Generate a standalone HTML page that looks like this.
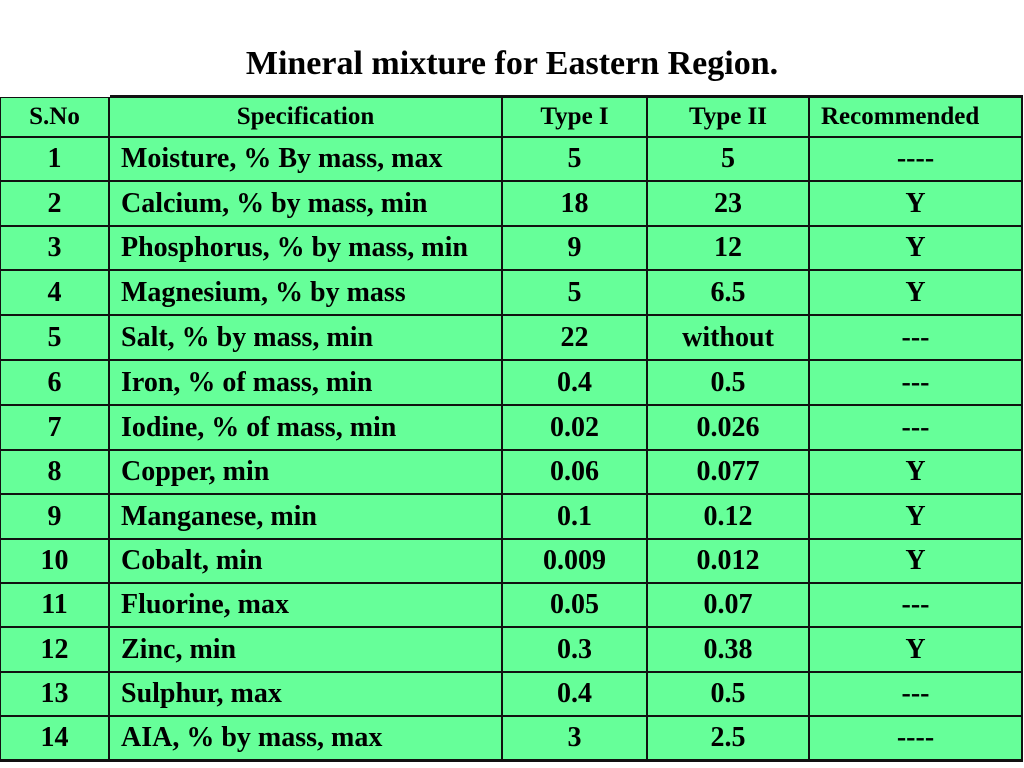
<!DOCTYPE html>
<html><head><meta charset="utf-8"><style>
body{margin:0;width:1024px;height:768px;background:#fff;position:relative;overflow:hidden;font-family:"Liberation Serif",serif;font-weight:bold;color:#000}
.t{position:absolute;left:0;width:1024px;text-align:center;font-size:34px;top:45px}
.c{position:absolute;box-sizing:border-box;background:#66ff99;border-right:2px solid #111;border-bottom:2px solid #111;display:flex;align-items:center;justify-content:center;font-size:28px;white-space:nowrap}
.l{justify-content:flex-start;padding-left:11px}
.h{font-size:25px}
</style></head><body>
<div class="t">Mineral mixture for Eastern Region.</div>
<div id="tbl"></div>
<script>
const cols=[0,110,503,648,810,1023];
const rows=[97,138,182,227,271,316,361,406,451,495,540,584,628,673,717,761];
const header=["S.No","Specification","Type I","Type II","Recommended"];
const specs=["Moisture, % By mass, max","Calcium, % by mass, min","Phosphorus, % by mass, min","Magnesium, % by mass","Salt, % by mass, min","Iron, % of mass, min","Iodine, % of mass, min","Copper, min","Manganese, min","Cobalt, min","Fluorine, max","Zinc, min","Sulphur, max","AIA, % by mass, max"];
const type1=["5","18","9","5","22","0.4","0.02","0.06","0.1","0.009","0.05","0.3","0.4","3"];
const type2=["5","23","12","6.5","without","0.5","0.026","0.077","0.12","0.012","0.07","0.38","0.5","2.5"];
const rec=["----","Y","Y","Y","---","---","---","Y","Y","Y","---","Y","---","----"];
const tbl=document.getElementById('tbl');
for(let r=0;r<15;r++){
  const vals=r==0?header:[String(r),specs[r-1],type1[r-1],type2[r-1],rec[r-1]];
  for(let c=0;c<5;c++){
    const d=document.createElement('div');
    
    
    d.className='c'+(r==0?' h':'')+(c==1&&r>0?' l':'')+(c==4&&r==0?' l':'');
    let top=rows[r];
    if(r==0&&c>0)top=95;
    d.style.left=cols[c]+'px';d.style.top=top+'px';
    d.style.width=(cols[c+1]-cols[c])+'px';
    d.style.height=(rows[r+1]-top+(r==14?1:0))+'px';
    if(c==0)d.style.borderLeft='1px solid #111';
    if(r==0)d.style.borderTop=(c>0?'3px':'1px')+' solid #111';
    if(r==14)d.style.borderBottom='3px solid #111';
    if(c==4&&r==0)d.style.paddingLeft='11px';
    d.textContent=vals[c];
    tbl.appendChild(d);
  }
}
</script>
</body></html>
